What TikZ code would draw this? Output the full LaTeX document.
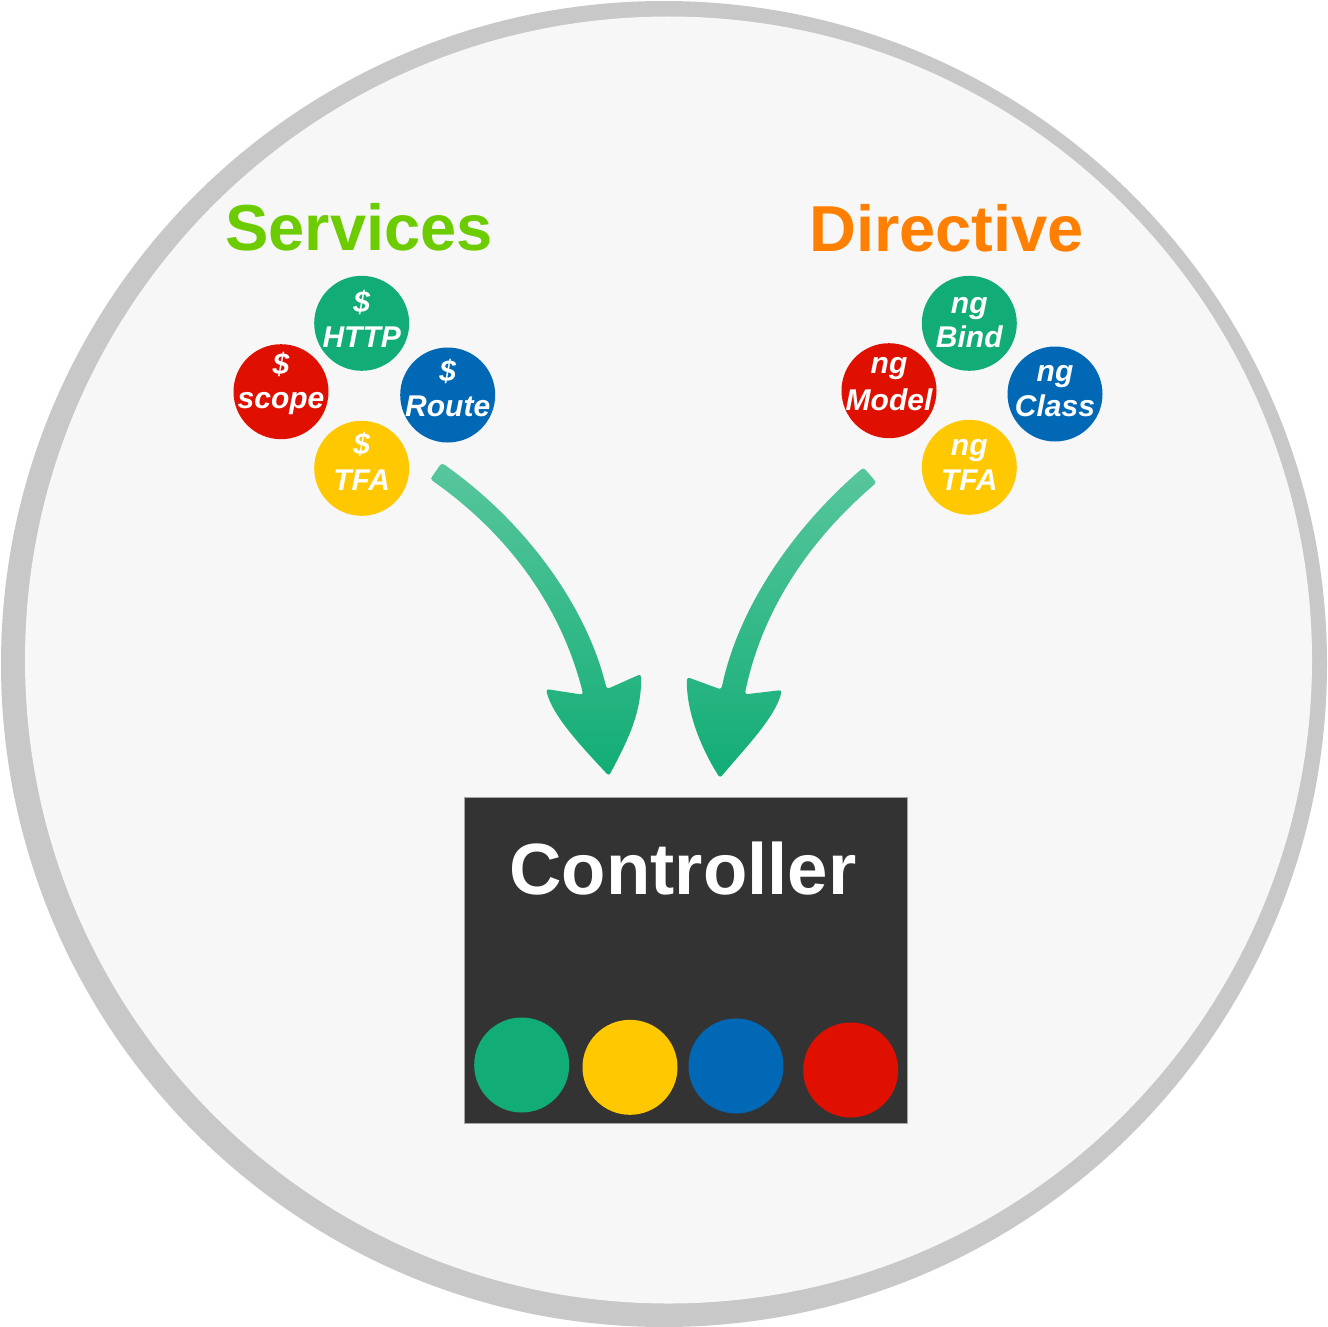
\documentclass[tikz,border=0pt]{standalone}
\usepackage{fontspec}
\setmainfont{Liberation Sans}
\definecolor{ringgray}{RGB}{200,200,200}
\definecolor{bgc}{RGB}{247,247,247}
\definecolor{cgreen}{RGB}{18,173,118}
\definecolor{cyellow}{RGB}{255,200,0}
\definecolor{cblue}{RGB}{0,104,181}
\definecolor{cred}{RGB}{224,16,0}
\definecolor{svgreen}{RGB}{108,204,0}
\definecolor{dirorange}{RGB}{255,128,0}
\definecolor{ctrlbg}{RGB}{51,51,51}
\definecolor{arrtop}{RGB}{88,198,157}
\definecolor{arrbot}{RGB}{18,173,118}
\newcommand\ballnode[8]{%
  \node[dot, fill=#4] (#1) at (#2,#3) {};
  \node[lbl] (#1-a) at (#2,#6) {#5};
  \node[lbl] (#1-b) at (#2,#8) {#7};}
\begin{document}
\begin{tikzpicture}[x=1pt,y=-1pt,
  dot/.style={circle, minimum size=95pt, inner sep=0pt, draw=none},
  lbl/.style={text=white, font=\fontsize{30}{34}\selectfont\bfseries\itshape, inner sep=0pt, anchor=base},
  titletext/.style={font=\fontsize{65}{70}\selectfont\bfseries, inner sep=0pt, anchor=base},
  arrowshape/.style={top color=arrtop, bottom color=arrbot, draw=none}]
\useasboundingbox (0,0) rectangle (1327,1327);
% background disc
\fill[ringgray] (664,664) circle (663pt);
\fill[bgc] (668.5,660) circle (643.5pt);
% titles
\node[titletext, text=svgreen] (services) at (359,250) {Services};
\node[titletext, text=dirorange] (directive) at (946.7,251) {Directive};
% service balls
\ballnode{http}{361.7}{323.3}{cgreen}{\$}{312.7}{HTTP}{347.3}
\ballnode{scope}{281}{391.7}{cred}{\$}{374.7}{scope}{408.3}
\ballnode{route}{447.7}{395}{cblue}{\$}{381}{Route}{416.7}
\ballnode{tfa}{361.7}{468.3}{cyellow}{\$}{454}{TFA}{490}
% directive balls
\ballnode{bind}{969.3}{323.3}{cgreen}{ng}{313.3}{Bind}{347.3}
\ballnode{model}{889}{390.7}{cred}{ng}{373.3}{Model}{410}
\ballnode{class}{1055}{394}{cblue}{ng}{381.7}{Class}{416.7}
\ballnode{ngtfa}{969.3}{467.3}{cyellow}{ng}{455}{TFA}{490}
% left arrow
\shade[arrowshape, rounded corners=3pt]
  (441.7,462.8) .. controls (526,522) and (587,607) .. (606.7,689.2)
  -- (641,674) .. controls (642,715) and (625,745) .. (609,776)
  .. controls (580,745) and (552,715) .. (546,689)
  -- (583.3,694.8) .. controls (563,613) and (514,538) .. (430.3,479.2) -- cycle;
% right arrow
\shade[arrowshape, rounded corners=3pt]
  (863.5,467.4) .. controls (793.5,527.4) and (738.3,607.6) .. (721.3,689.6)
  -- (687,677) .. controls (686,712) and (702,750) .. (720,778)
  .. controls (745,748) and (775,718) .. (782,690)
  -- (744.7,694.4) .. controls (761.7,612.4) and (806.5,542.6) .. (876.5,482.6) -- cycle;
% controller
\node[fill=ctrlbg, draw=gray!70, line width=1pt, minimum width=443pt, minimum height=326pt,
      inner sep=0pt, anchor=north west] (ctrl) at (464,797) {};
\node[text=white, font=\fontsize{72.6}{80}\selectfont\bfseries, inner sep=0pt, anchor=base]
      (ctrltext) at (683,894) {Controller};
\node[dot, fill=cgreen]  (g1) at (521.7,1065) {};
\node[dot, fill=cyellow] (y1) at (630,1067.3) {};
\node[dot, fill=cblue]   (b1) at (736,1066) {};
\node[dot, fill=cred]    (r1) at (850.7,1070) {};
\end{tikzpicture}
\end{document}
